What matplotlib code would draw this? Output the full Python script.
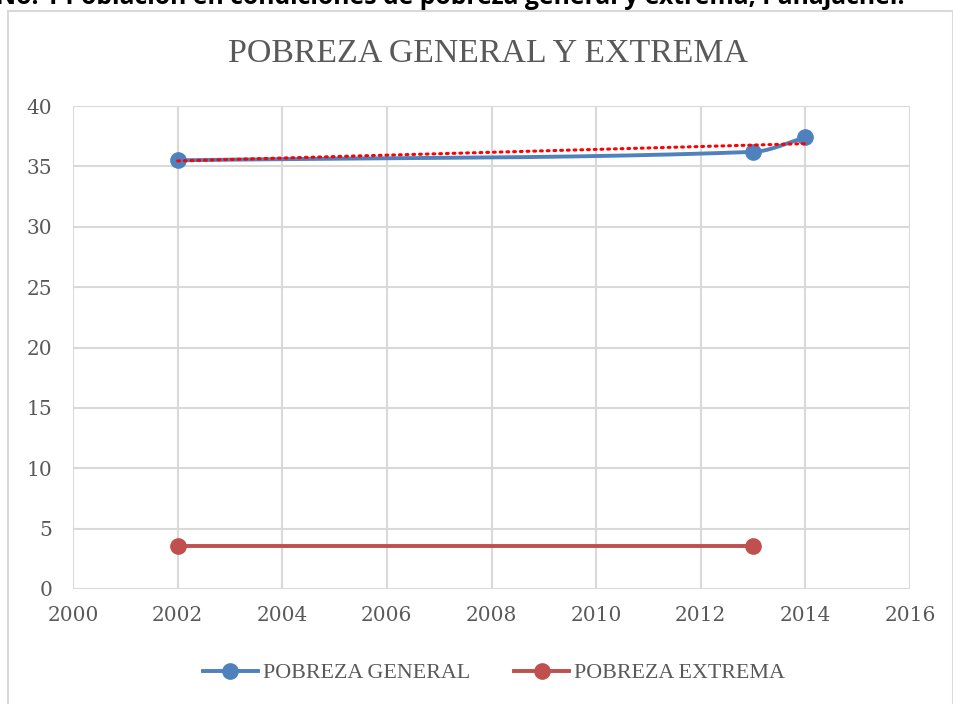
import numpy as np
import matplotlib
matplotlib.use("Agg")
import matplotlib.pyplot as plt
from matplotlib.patches import Rectangle
from matplotlib.lines import Line2D

years_general = [2002, 2013, 2014]
pobreza_general = [35.5, 36.2, 37.4]
years_extrema = [2002, 2013]
pobreza_extrema = [3.6, 3.6]
x_ticks = [2000, 2002, 2004, 2006, 2008, 2010, 2012, 2014, 2016]
y_ticks = [0, 5, 10, 15, 20, 25, 30, 35, 40]
title = "POBREZA GENERAL Y EXTREMA"
caption = "No. 1 Población en condiciones de pobreza general y extrema, Panajachel."

BLUE = "#4f81bd"
RED = "#c0504d"
GRID = "#d9d9d9"
TXT = "#595959"
SERIF = ["Liberation Serif", "DejaVu Serif"]
TICKF = ["DejaVu Serif"]


def pchip_smooth(xs, ys, n=80):
    xs = np.asarray(xs, float); ys = np.asarray(ys, float)
    h = np.diff(xs); d = np.diff(ys) / h
    m = np.zeros_like(xs)
    for k in range(1, len(xs) - 1):
        if d[k - 1] * d[k] > 0:
            w1 = 2 * h[k] + h[k - 1]; w2 = h[k] + 2 * h[k - 1]
            m[k] = (w1 + w2) / (w1 / d[k - 1] + w2 / d[k])
    m[0] = d[0]
    m[-1] = d[-1]
    ox, oy = [], []
    for k in range(len(xs) - 1):
        t = np.linspace(0, 1, n)
        h00 = 2 * t**3 - 3 * t**2 + 1; h10 = t**3 - 2 * t**2 + t
        h01 = -2 * t**3 + 3 * t**2; h11 = t**3 - t**2
        ox.extend(xs[k] + t * h[k])
        oy.extend(h00 * ys[k] + h10 * h[k] * m[k] + h01 * ys[k + 1] + h11 * h[k] * m[k + 1])
    return np.array(ox), np.array(oy)


fig = plt.figure(figsize=(9.54, 7.04), dpi=100)
W, H = 954, 704

# outer chart frame
fig.patches.append(Rectangle((8 / W, -0.05), 945 / W, (H - 11) / H + 0.05,
                             transform=fig.transFigure, fill=False,
                             edgecolor=GRID, linewidth=1.5))

# caption above the chart (cut off at the top edge, as in the source)
fig.text(905 / W, 1 - 4 / H, caption, ha="right", va="baseline",
         fontsize=17.8, fontweight="bold", family=["Open Sans", "DejaVu Sans"], color="black")

ax = fig.add_axes([73 / W, 1 - 589 / H, (910 - 73) / W, (589 - 106) / H])
ax.set_xlim(2000, 2016)
ax.set_ylim(0, 40)
ax.set_xticks(x_ticks)
ax.set_yticks(y_ticks)
ax.grid(True, color=GRID, linewidth=1.5)
ax.set_axisbelow(True)
for s in ax.spines.values():
    s.set_visible(False)
ax.tick_params(axis="x", length=0, colors=TXT, labelsize=14.5, pad=12)
ax.tick_params(axis="y", length=0, colors=TXT, labelsize=14.5, pad=15)
for lab in ax.get_xticklabels() + ax.get_yticklabels():
    lab.set_family(TICKF)

sx, sy = pchip_smooth(years_general, pobreza_general)
ax.plot(sx, sy, color=BLUE, linewidth=2.8, solid_capstyle="round", zorder=3)
ax.plot(years_general, pobreza_general, "o", color=BLUE, markersize=11, zorder=4)

ax.plot(years_extrema, pobreza_extrema, color=RED, linewidth=2.8, marker="o",
        markersize=11, zorder=3)

# linear trend line of general poverty
coef = np.polyfit(years_general, pobreza_general, 1)
tx = np.array([years_general[0], years_general[-1]])
ax.plot(tx, np.polyval(coef, tx), color="#ff0000", linewidth=2.2,
        linestyle=(0, (0.6, 1.6)), dash_capstyle="round", zorder=5)

fig.text(488 / W, 1 - 54 / H, title, ha="center", va="center",
         fontsize=24.4, family=SERIF, color=TXT)

handles = [Line2D([], [], color=BLUE, linewidth=2.8, marker="o", markersize=11),
           Line2D([], [], color=RED, linewidth=2.8, marker="o", markersize=11)]
fig.legend(handles, ["POBREZA GENERAL", "POBREZA EXTREMA"], loc="center",
           bbox_to_anchor=(494 / W, 1 - 673 / H), ncol=2, frameon=False,
           prop={"family": SERIF, "size": 15.8}, labelcolor=TXT,
           handlelength=2.5, handletextpad=0.25, columnspacing=2.0)

fig.savefig("out.png", dpi=100)
